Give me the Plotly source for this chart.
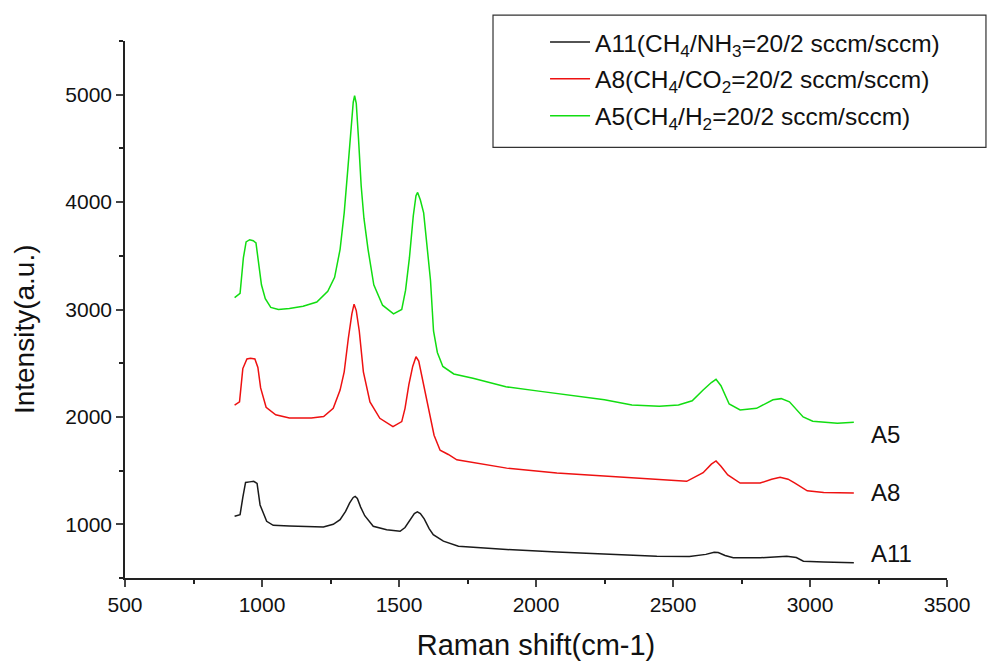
import plotly.graph_objects as go

# Raman shift (cm-1) and intensity (a.u.)
a5_x = [900, 920, 932, 942, 955, 968, 978, 988, 998, 1012, 1032, 1060, 1100, 1150, 1200,
        1240, 1265, 1285, 1300, 1313, 1325, 1333, 1338, 1344, 1352, 1362, 1372, 1387,
        1408, 1440, 1480, 1510, 1524, 1538, 1552, 1562, 1568, 1578, 1590, 1603, 1615,
        1626, 1640, 1660, 1700, 1770, 1890, 2010, 2130, 2250, 2350, 2450, 2520, 2570,
        2610, 2640, 2657, 2675, 2705, 2745, 2805, 2865, 2895, 2925, 2975, 3010, 3100, 3160]
a5_y = [3110, 3150, 3480, 3630, 3650, 3640, 3620, 3420, 3230, 3100, 3020, 3000, 3010, 3030, 3070,
        3170, 3300, 3560, 3900, 4300, 4700, 4930, 4990, 4920, 4600, 4150, 3850, 3560,
        3230, 3040, 2960, 3000, 3180, 3480, 3870, 4060, 4090, 4020, 3900, 3560, 3270,
        2800, 2600, 2470, 2400, 2360, 2280, 2240, 2200, 2160, 2110, 2100, 2110, 2150,
        2250, 2320, 2350, 2290, 2120, 2065, 2080, 2160, 2170, 2140, 2000, 1960, 1940, 1950]

a8_x = [900, 918, 930, 945, 958, 974, 985, 995, 1015, 1050, 1100, 1140, 1180, 1225, 1260,
        1285, 1300, 1315, 1328, 1336, 1344, 1355, 1370, 1394, 1430, 1478, 1510, 1522,
        1536, 1550, 1562, 1572, 1585, 1600, 1615, 1628, 1650, 1680, 1711, 1800, 1893, 2076,
        2258, 2441, 2550, 2610, 2640, 2657, 2675, 2700, 2745, 2818, 2860, 2891, 2920,
        2945, 2990, 3050, 3160]
a8_y = [2110, 2140, 2450, 2540, 2545, 2540, 2460, 2270, 2090, 2020, 1990, 1987, 1990, 2003, 2080,
        2250, 2420, 2730, 2960, 3050, 2990, 2800, 2420, 2140, 1987, 1910, 1956, 2080,
        2300, 2470, 2560, 2520, 2360, 2170, 1990, 1830, 1690, 1650, 1600, 1560, 1523, 1477,
        1446, 1414, 1400, 1480, 1560, 1590, 1540, 1460, 1384, 1384, 1420, 1437, 1420,
        1384, 1312, 1297, 1291]

a11_x = [900, 920, 930, 940, 955, 970, 982, 993, 1017, 1041, 1100, 1150, 1224, 1260, 1285,
         1305, 1320, 1333, 1340, 1348, 1360, 1375, 1406, 1455, 1504, 1522, 1540, 1556,
         1567, 1578, 1592, 1610, 1625, 1662, 1717, 1800, 1893, 2076, 2258, 2441, 2560,
         2620, 2650, 2665, 2690, 2720, 2818, 2880, 2915, 2950, 2976, 3050, 3160]
a11_y = [1075, 1090, 1250, 1390, 1395, 1400, 1380, 1180, 1028, 991, 985, 982, 975, 1000, 1043,
         1120, 1200, 1250, 1260, 1240, 1160, 1080, 982, 950, 935, 970, 1040, 1100,
         1115, 1100, 1050, 960, 904, 843, 796, 780, 765, 743, 725, 703, 700,
         720, 740, 738, 710, 688, 688, 698, 703, 690, 657, 648, 641]

series_names = ["A11(CH<sub>4</sub>/NH<sub>3</sub>=20/2 sccm/sccm)",
                "A8(CH<sub>4</sub>/CO<sub>2</sub>=20/2 sccm/sccm)",
                "A5(CH<sub>4</sub>/H<sub>2</sub>=20/2 sccm/sccm)"]
end_labels = ["A11", "A8", "A5"]
end_label_y = [725, 1300, 1838]

x_ticks = [500, 1000, 1500, 2000, 2500, 3000, 3500]
y_ticks = [1000, 2000, 3000, 4000, 5000]

FONT = "Arial, 'Liberation Sans', sans-serif"

fig = go.Figure()
for i, (name, xs, ys, col) in enumerate([
    (series_names[0], a11_x, a11_y, "#1a1a1a"),
    (series_names[1], a8_x, a8_y, "#ee1111"),
    (series_names[2], a5_x, a5_y, "#11dd11"),
]):
    fig.add_trace(go.Scatter(x=xs, y=ys, mode="lines", name=name, legendgroup=f"g{i}",
                             line=dict(color=col, width=1.5)))

for lab, yv in zip(end_labels, end_label_y):
    fig.add_annotation(x=3215, y=yv, text=lab, showarrow=False, xanchor="left",
                       yanchor="middle", font=dict(family=FONT, size=24, color="#111"))

# y-axis title placed as a rotated annotation (sits slightly below centre in the reference)
fig.add_annotation(xref="paper", yref="paper", x=-0.122, y=0.463, text="Intensity(a.u.)",
                   textangle=-90, showarrow=False, xanchor="center", yanchor="middle",
                   font=dict(family=FONT, size=28, color="#111"))

# legend frame
fig.add_shape(type="rect", xref="paper", yref="paper", x0=0.4477, x1=1.0474,
              y0=0.8019, y1=1.048, line=dict(color="#333", width=1.2),
              fillcolor="white", layer="below")

fig.update_layout(
    width=988, height=668,
    margin=dict(l=125, r=41, t=41, b=87),
    paper_bgcolor="white", plot_bgcolor="white",
    font=dict(family=FONT, color="#111"),
    showlegend=True,
    legend=dict(x=0.511, y=1.04, xanchor="left", yanchor="top",
                borderwidth=0, bgcolor="rgba(0,0,0,0)",
                font=dict(family=FONT, size=24.5, color="#111"),
                itemwidth=40, traceorder="grouped", tracegroupgap=2),
)
fig.update_xaxes(range=[500, 3500], tickvals=x_ticks, ticks="outside", ticklen=7,
                 tickwidth=1.5, showline=True, linecolor="#222", linewidth=1.6,
                 showgrid=False, zeroline=False, mirror=False,
                 tickfont=dict(family=FONT, size=21, color="#111"),
                 minor=dict(dtick=250, tick0=500, ticks="outside", ticklen=4, tickcolor="#222"),
                 title=dict(text="Raman shift(cm-1)", font=dict(family=FONT, size=29, color="#111"),
                            standoff=20))
fig.update_yaxes(range=[500, 5500], tickvals=y_ticks, ticks="outside", ticklen=7,
                 tickwidth=1.5, showline=True, linecolor="#222", linewidth=1.6,
                 showgrid=False, zeroline=False, mirror=False, ticklabelstandoff=0,
                 tickfont=dict(family=FONT, size=21, color="#111"),
                 minor=dict(dtick=500, tick0=500, ticks="outside", ticklen=4, tickcolor="#222"))

fig.write_html("out.html")
